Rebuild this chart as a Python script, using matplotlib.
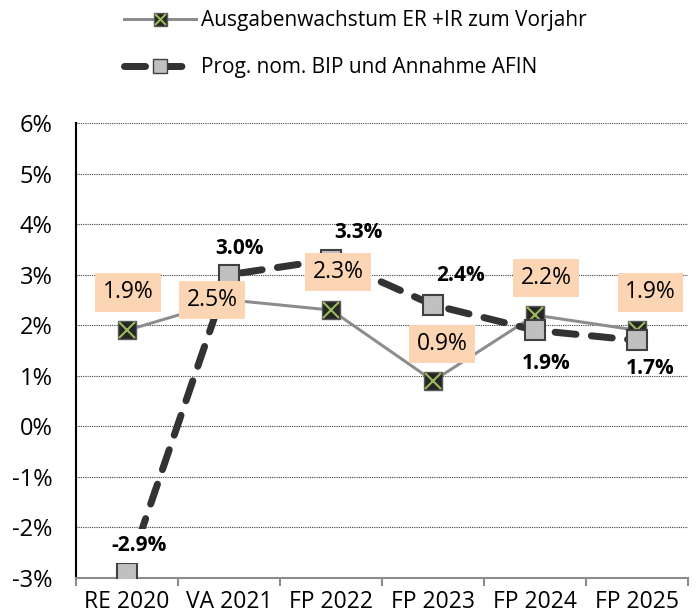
import matplotlib
matplotlib.use('Agg')
import matplotlib.pyplot as plt
from matplotlib.lines import Line2D
import numpy as np

# ---- Daten ----
kategorien = ['RE 2020', 'VA 2021', 'FP 2022', 'FP 2023', 'FP 2024', 'FP 2025']
ausgaben = [1.9, 2.5, 2.3, 0.9, 2.2, 1.9]        # Ausgabenwachstum ER + IR
bip_afin = [-2.9, 3.0, 3.3, 2.4, 1.9, 1.7]       # Prog. nom. BIP / AFIN
y_ticks = [-3, -2, -1, 0, 1, 2, 3, 4, 5, 6]

name_ausgaben = 'Ausgabenwachstum ER +IR zum Vorjahr'
name_bip = 'Prog. nom. BIP und Annahme AFIN'

# Label-Versatz in Pixel (Layout)
off_ausgaben = [(1, 38), (-17, 0), (7, 38), (9, 37), (11, 37), (13, 38)]
off_bip = [(12, 27), (10, 26), (27, 27), (27, 30), (11, -33), (13, -28)]

plt.rcParams['font.family'] = ['Open Sans', 'DejaVu Sans']

DPI = 100
fig = plt.figure(figsize=(6.98, 6.16), dpi=DPI)
ax = fig.add_axes([0.109, 0.0617, 0.877, 0.7386])

x = np.arange(len(kategorien))
px = 72.0 / DPI  # Pixel -> Punkte

# Linie 1: grau mit dunklem Quadrat + grünem Kreuz
ax.plot(x, ausgaben, color='#8C8C8C', linewidth=3 * px, zorder=3)
ax.plot(x, ausgaben, linestyle='none', marker='s', markersize=18 * px,
        markerfacecolor='#262626', markeredgecolor='#595959',
        markeredgewidth=1.0, zorder=4)
ax.plot(x, ausgaben, linestyle='none', marker='x', markersize=16 * px,
        markeredgecolor='#9BBB59', markeredgewidth=1.5, zorder=4)

# Linie 2: dick gestrichelt, graue Quadrate
ax.plot(x, bip_afin, color='#333333', linewidth=7 * px,
        dashes=(3.0, 2.2), dash_capstyle='round', zorder=5)
ax.plot(x, bip_afin, linestyle='none', marker='s', markersize=20 * px,
        markerfacecolor='#C0C0C0', markeredgecolor='#404040',
        markeredgewidth=1.5, zorder=6)

# Beschriftungen Linie 2 (fett)
for i, v in enumerate(bip_afin):
    dx, dy = off_bip[i]
    bbox = None
    if v < 0:
        bbox = dict(boxstyle='square,pad=0.3', facecolor='white',
                    edgecolor='none')
    ax.annotate(f'{v:.1f}%', (x[i], v), xytext=(dx * px, dy * px),
                textcoords='offset points', ha='center', va='center',
                fontsize=15, fontweight='bold', color='black',
                bbox=bbox, zorder=7)

# Beschriftungen Linie 1 (Pfirsich-Boxen)
for i, v in enumerate(ausgaben):
    dx, dy = off_ausgaben[i]
    ax.annotate(f'{v:.1f}%', (x[i], v), xytext=(dx * px, dy * px),
                textcoords='offset points', ha='center', va='center',
                fontsize=16.5, color='black', zorder=8,
                bbox=dict(boxstyle='square,pad=0.32', facecolor='#FCD5B4',
                          edgecolor='none'))

# Achsen
ax.set_xlim(-0.5, len(kategorien) - 0.5)
ax.set_ylim(-3, 6)
ax.set_yticks(y_ticks)
ax.set_yticklabels([f'{t}%' for t in y_ticks], fontsize=17)
ax.tick_params(axis='y', length=0, pad=17)

ax.set_xticks(x)
ax.set_xticklabels(kategorien, fontsize=16.5)
ax.set_xticks(np.arange(len(kategorien) + 1) - 0.5, minor=True)
ax.tick_params(axis='x', which='major', length=0, pad=9)
ax.tick_params(axis='x', which='minor', length=6, width=1.5,
               color='#8C8C8C', direction='out')

ax.grid(axis='y', color='#404040', linestyle=(0, (1, 1)), linewidth=0.8)
ax.set_axisbelow(True)
for s in ['top', 'right']:
    ax.spines[s].set_visible(False)
ax.spines['left'].set_color('black')
ax.spines['left'].set_linewidth(1.5)
ax.spines['bottom'].set_color('#8C8C8C')
ax.spines['bottom'].set_linewidth(1.5)

# Legende
h1 = Line2D([], [], color='#8C8C8C', linewidth=3 * px, marker='s',
            markersize=13 * px, markerfacecolor='#262626',
            markeredgecolor='#595959')
h1x = Line2D([], [], linestyle='none', marker='x', markersize=11 * px,
             markeredgecolor='#9BBB59', markeredgewidth=1.5)
h2 = Line2D([], [], color='#333333', linewidth=7 * px, dashes=(3.0, 2.2),
            dash_capstyle='round', marker='s', markersize=14 * px,
            markerfacecolor='#C0C0C0', markeredgecolor='#404040')
fig.legend([(h1, h1x), h2], [name_ausgaben, name_bip],
           loc='upper left', bbox_to_anchor=(0.165, 0.997), frameon=False,
           fontsize=15, handlelength=3.5, handletextpad=0.2,
           labelspacing=1.25, borderaxespad=0)

fig.savefig('out.png', dpi=DPI)
